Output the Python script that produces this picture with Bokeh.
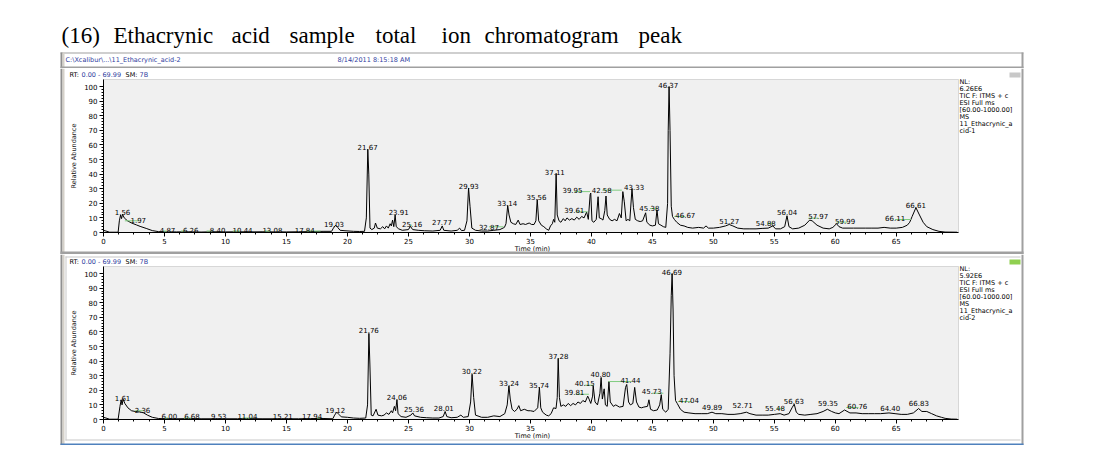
import math
import numpy as np
from bokeh.plotting import figure
from bokeh.layouts import column
from bokeh.models import Range1d, Label, BoxAnnotation, ColumnDataSource, FixedTicker
from bokeh.embed import file_html
from bokeh.resources import INLINE
from bokeh.core.properties import value

# ---------------- data ----------------
TITLE = "(16) Ethacrynic acid sample total ion chromatogram peak"
FILE_PATH = "C:\\Xcalibur\\...\\11_Ethacrynic_acid-2"
DATE_TXT = "8/14/2011 8:15:18 AM"
X_LABEL = "Time (min)"
Y_LABEL = "Relative Abundance"

x_ticks = [0, 5, 10, 15, 20, 25, 30, 35, 40, 45, 50, 55, 60, 65]
y_ticks = [0, 10, 20, 30, 40, 50, 60, 70, 80, 90, 100]
T_MAX = 70.1     # right end of the time axis (min)
Y_MAX = 104.8    # top of the abundance axis (%)

# sample 1 trace (retention time, relative abundance)
rt1 = [0.0, 0.2, 0.5, 1.2, 1.3, 1.4, 1.48, 1.56, 1.7, 1.97, 2.3, 2.7, 3.0, 3.5, 4.0, 4.5, 5.0, 6.0, 7.0, 8.0,
       9.0, 10.0, 11.0, 12.0, 13.0, 14.0, 15.0, 16.0, 17.0, 18.0, 18.7, 18.85, 19.03, 19.2, 19.4, 19.8, 20.5, 21.0,
       21.4, 21.55, 21.67, 21.75, 21.85, 22.0, 22.2, 22.3, 22.45, 22.7, 22.9, 23.05, 23.2, 23.35, 23.5, 23.6, 23.7,
       23.8, 23.91, 24.0, 24.2, 24.5, 25.0, 25.16, 25.35, 25.8, 26.3, 27.0, 27.6, 27.77, 27.9, 28.5, 29.0, 29.2,
       29.35, 29.6, 29.8, 29.93, 30.05, 30.2, 30.5, 31.0, 31.5, 32.0, 32.5, 32.87, 33.0, 33.14, 33.25, 33.4, 33.6,
       33.8, 34.0, 34.15, 34.4, 34.6, 34.9, 35.1, 35.3, 35.45, 35.56, 35.68, 35.9, 36.1, 36.3, 36.5, 36.65, 36.8,
       36.9, 37.0, 37.11, 37.2, 37.35, 37.5, 37.7, 37.85, 38.0, 38.2, 38.4, 38.6, 38.8, 39.0, 39.2, 39.4, 39.61,
       39.75, 39.9, 39.95, 40.05, 40.2, 40.4, 40.55, 40.65, 40.8, 40.95, 41.1, 41.2, 41.3, 41.5, 41.7, 41.9, 42.1,
       42.3, 42.45, 42.58, 42.7, 42.85, 43.0, 43.15, 43.33, 43.45, 43.6, 43.8, 44.0, 44.2, 44.45, 44.55, 44.8,
       45.0, 45.25, 45.38, 45.5, 45.7, 45.9, 46.1, 46.25, 46.3, 46.37, 46.45, 46.55, 46.65, 46.8, 47.0, 47.3,
       47.6, 47.9, 48.3, 48.8, 49.2, 49.4, 49.6, 50.0, 50.5, 51.0, 51.3, 51.6, 52.0, 52.5, 53.0, 53.5, 54.0,
       54.5, 54.88, 55.1, 55.5, 55.85, 56.04, 56.2, 56.5, 57.0, 57.5, 57.9, 58.1, 58.5, 59.0, 59.5, 59.8, 60.1,
       60.3, 60.6, 61.5, 62.5, 63.0, 63.5, 64.0, 64.5, 65.0, 65.5, 65.9, 66.1, 66.3, 66.61, 66.9, 67.2, 67.5,
       68.0, 68.5, 69.0, 69.99]
ab1 = [1.5, 1.0, 0.2, 0.2, 8, 12, 9.5, 12.5, 10, 8, 6.5, 5.2, 4.2, 2.8, 1.3, 0.6, 0.4, 0.4, 0.5, 0.3,
       0.5, 0.4, 0.5, 0.4, 0.5, 0.4, 0.4, 0.5, 0.6, 0.8, 0.8, 3, 5, 3.5, 1.5, 1.2, 0.8, 0.7,
       0.8, 10, 57, 40, 3, 2, 3, 6.5, 3, 2.5, 4, 2.5, 4.5, 3, 6, 4.5, 8.5,
       4, 12, 4, 2.5, 1.5, 2, 4.2, 2, 1.5, 1.2, 1.0, 1.5, 4.5, 1.5, 1.0, 1.5, 3,
       1.3, 1.5, 8, 30.5, 18, 3, 1.5, 1.0, 1.0, 1.5, 2, 3.5, 6, 18.5, 12, 7, 6,
       5.5, 8.5, 5.5, 6, 5.5, 6.5, 5.5, 5.5, 8, 22.5, 8, 5, 4, 2.5, 1.5, 4.5, 6,
       9, 7, 40.5, 12, 8, 7, 9.5, 8, 10, 8.5, 9.5, 8.5, 10.5, 9, 11, 10, 14,
       9, 26, 27, 8, 7, 9, 24.5, 10, 9.5, 8.5, 15, 25, 12, 9, 8, 9, 8,
       13, 10, 28, 21, 8, 9, 8, 30, 17, 9, 8, 7.5, 8, 13.5, 7, 5,
       4.5, 5, 15.5, 6, 5, 4, 3.5, 20, 70, 100, 70, 18, 11, 9, 7, 5,
       4.5, 3.5, 3, 3.5, 3, 4.5, 3, 3, 3.5, 4.5, 5.5, 4.5, 3, 2.5, 2.5, 2.5, 2.8,
       3, 4.5, 2.5, 2.5, 4, 11.5, 4, 2.5, 3, 5, 8.5, 8, 5, 3, 2.5, 3.5, 6,
       4, 3, 3, 3, 3, 3, 3.5, 3, 3, 3.5, 5, 7, 11, 17, 12, 7, 4,
       2, 0.8, 0.3, 0.2]

# sample 2 trace
rt2 = [0.0, 0.2, 0.5, 1.2, 1.35, 1.45, 1.52, 1.61, 1.75, 2.0, 2.3, 2.6, 3.0, 3.3, 3.6, 4.0, 4.5, 5.0, 6.0, 7.0,
       8.0, 9.0, 10.0, 11.0, 12.0, 13.0, 14.0, 15.0, 16.0, 17.0, 18.0, 18.8, 18.95, 19.12, 19.3, 19.5, 20.0, 20.5,
       21.0, 21.5, 21.65, 21.76, 21.84, 21.95, 22.1, 22.35, 22.5, 22.8, 23.0, 23.2, 23.4, 23.6, 23.7, 23.85, 23.95,
       24.06, 24.15, 24.4, 24.8, 25.2, 25.36, 25.5, 26.0, 26.5, 27.0, 27.5, 27.85, 28.01, 28.15, 28.5, 29.0, 29.3,
       29.5, 29.9, 30.1, 30.22, 30.35, 30.5, 31.0, 31.5, 32.0, 32.5, 32.9, 33.1, 33.24, 33.35, 33.5, 33.7, 33.9,
       34.05, 34.2, 34.5, 34.8, 35.0, 35.3, 35.6, 35.74, 35.85, 36.0, 36.3, 36.5, 36.7, 36.9, 37.1, 37.2, 37.28,
       37.38, 37.5, 37.7, 37.9, 38.1, 38.3, 38.5, 38.7, 38.9, 39.1, 39.3, 39.5, 39.7, 39.81, 39.95, 40.1, 40.15,
       40.3, 40.5, 40.7, 40.8, 40.9, 41.05, 41.15, 41.3, 41.44, 41.55, 41.8, 42.0, 42.3, 42.6, 42.8, 42.9, 43.05,
       43.2, 43.4, 43.55, 43.7, 43.9, 44.1, 44.3, 44.6, 44.72, 44.85, 45.1, 45.4, 45.6, 45.73, 45.85, 46.1, 46.3,
       46.45, 46.55, 46.62, 46.7, 46.78, 46.9, 47.04, 47.3, 47.6, 48.0, 48.5, 49.0, 49.5, 49.89, 50.2, 50.7, 51.2,
       51.7, 52.2, 52.71, 53.0, 53.5, 54.0, 54.5, 55.0, 55.48, 55.8, 56.2, 56.45, 56.63, 56.8, 57.0, 57.5, 58.0,
       58.5, 59.0, 59.35, 59.7, 60.0, 60.3, 60.76, 61.2, 61.7, 62.2, 62.7, 63.2, 63.7, 64.4, 64.9, 65.4, 65.9,
       66.4, 66.83, 67.1, 67.5, 67.9, 68.3, 68.7, 69.0, 69.5, 69.99]
ab2 = [1.5, 1.0, 0.2, 0.2, 9, 13.5, 10, 13.9, 11, 8, 6, 5.5, 5.2, 4.5, 3, 1.5, 0.7, 0.5, 0.5, 0.6,
       0.5, 0.5, 0.5, 0.5, 0.6, 0.5, 0.5, 0.5, 0.5, 0.6, 0.7, 0.5, 3, 5, 3.5, 1.8, 1.5, 1.0,
       0.8, 1.0, 10, 59, 38, 3, 2.5, 7, 3, 2.5, 3, 4.5, 3.5, 6, 4.5, 9, 6,
       13.5, 4, 2, 1.5, 3, 4.5, 2.5, 1.5, 1.2, 1.0, 1.0, 2, 5.5, 2, 1.2, 1.5, 3,
       1.5, 2, 12, 31, 15, 3, 1.5, 1.5, 2.5, 2, 4, 10, 23, 14, 7, 5.5, 7,
       9.5, 6, 7, 6, 6, 5.5, 8, 22, 8, 5, 3, 2.5, 4, 8, 7.5, 15, 41.8,
       15, 9, 10, 9, 11, 9.5, 11, 10, 12, 11, 13, 12, 16, 14, 11, 16, 23,
       12, 10, 18, 28.8, 14, 21, 10, 9, 26, 12, 9, 10, 8.5, 9, 22, 24, 12,
       10, 11, 22, 12, 8.5, 8, 8.5, 9, 13.5, 7, 6, 6.5, 10, 17, 7, 5, 7,
       45, 85, 100, 75, 30, 13, 11, 7, 5, 4.5, 4, 4, 4, 5, 4, 4, 3.5,
       3.5, 4, 5, 4, 3, 3, 3, 3.5, 4, 3, 4, 8, 10.5, 5, 3.5, 3, 3.5,
       4, 5.5, 7, 5.5, 4.5, 4, 6.5, 4.5, 4.5, 4, 4, 4, 4, 4.5, 4, 3.5, 3.5,
       4.5, 7.5, 5.5, 5.5, 4, 2.5, 1.5, 0.8, 0.3, 0.2]

# peak annotations (label text, label time, label height)
lab1_txt = ["1.56", "1.97", "4.87", "6.26", "8.40", "10.44", "13.08", "17.84", "19.03", "21.67", "23.91",
            "25.16", "27.77", "29.93", "32.87", "33.14", "35.56", "37.11", "39.95", "39.61", "42.58", "43.33",
            "45.38", "46.37", "46.67", "51.27", "54.88", "56.04", "57.97", "59.99", "66.11", "66.61"]
lab1_t = [1.56, 2.85, 5.25, 7.15, 9.35, 11.4, 13.85, 16.5, 18.9, 21.65, 24.2,
          25.3, 27.75, 29.95, 31.6, 33.1, 35.5, 37.0, 38.45, 38.6, 40.85, 43.5,
          44.75, 46.3, 47.7, 51.3, 54.3, 56.05, 58.6, 60.8, 64.9, 66.6]
lab1_y = [14.0, 8.5, 1.5, 1.5, 1.5, 1.5, 1.5, 1.5, 5.5, 58.5, 14.0,
          5.5, 7.0, 32.0, 4.0, 20.5, 24.0, 41.5, 29.0, 15.5, 29.0, 31.5,
          17.0, 101.2, 11.9, 8.0, 6.8, 13.7, 11.0, 8.0, 9.8, 18.7]

lab2_txt = ["1.61", "2.36", "6.00", "6.68", "9.53", "11.04", "15.21", "17.94", "19.12", "21.76", "24.06",
            "25.36", "28.01", "30.22", "33.24", "35.74", "37.28", "39.81", "40.15", "40.80", "41.44", "45.73",
            "46.69", "47.04", "49.89", "52.71", "55.48", "56.63", "59.35", "60.76", "64.40", "66.83"]
lab2_t = [1.56, 3.2, 5.4, 7.25, 9.45, 11.8, 14.7, 17.1, 19.0, 21.75, 24.05,
          25.45, 27.9, 30.2, 33.25, 35.7, 37.3, 38.6, 39.45, 40.75, 43.2, 44.95,
          46.6, 48.0, 49.9, 52.4, 55.05, 56.6, 59.4, 61.8, 64.5, 66.85]
lab2_y = [15.0, 6.6, 2.3, 2.3, 2.3, 2.3, 2.3, 2.3, 6.4, 61.5, 15.5,
          7.3, 8.2, 32.9, 24.9, 23.7, 43.6, 18.5, 24.9, 31.0, 27.2, 19.2,
          100.9, 13.2, 8.9, 10.0, 8.2, 12.8, 11.0, 9.4, 8.2, 11.0]

# integration baselines (green) : start, end, level
grn1_x0 = [1.75, 4.85, 6.35, 8.45, 10.6, 13.2, 16.6, 25.1, 31.6, 38.6, 38.7, 40.9, 44.8, 46.8, 54.4, 57.8, 60.1, 64.9]
grn1_x1 = [2.9, 5.2, 6.7, 8.9, 11.2, 13.7, 17.8, 25.3, 32.8, 39.9, 39.7, 42.5, 45.4, 47.7, 54.9, 58.6, 61.0, 66.2]
grn1_y = [8.0, 1.0, 1.0, 1.0, 1.0, 1.0, 1.0, 5.0, 3.9, 28.0, 14.2, 29.0, 16.4, 11.0, 6.2, 9.8, 7.1, 8.9]

grn2_x0 = [2.6, 5.0, 6.6, 11.4, 17.5, 38.7, 39.45, 41.4, 45.0, 47.1, 55.2, 60.9]
grn2_x1 = [3.3, 5.3, 7.2, 12.2, 17.8, 39.8, 40.2, 43.3, 45.9, 48.2, 55.7, 61.9]
grn2_y = [6.0, 1.0, 1.0, 1.0, 1.0, 17.3, 23.5, 26.0, 18.0, 12.3, 7.5, 8.2]

info1 = ["NL:", "6.26E6", "TIC F: ITMS + c", "ESI Full ms", "[60.00-1000.00]", "MS", "11_Ethacrynic_a", "cid-1"]
info2 = ["NL:", "5.92E6", "TIC F: ITMS + c", "ESI Full ms", "[60.00-1000.00]", "MS", "11_Ethacrynic_a", "cid-2"]
rt_range_txt = "0.00 - 69.99"
sm_txt = "7B"

# ---------------- styling / layout ----------------
W = 1088
PAGE = 8
SANS = "DejaVu Sans"
BLUE_TXT = "#3040a0"
CHROME = "#a0a0a0"
CHROME_LIGHT = "#d4d0c8"
PLOT_BG = "#f0f0f0"
GREEN = "#80cc80"
FRAME_L, FRAME_R = 111, 966     # plot area, page pixels


def box(p, oy, x0, y0, x1, y1, color):
    p.add_layout(BoxAnnotation(left=x0 - PAGE, right=x1 - PAGE, top=y0 - oy, bottom=y1 - oy,
                               left_units="canvas", right_units="canvas",
                               top_units="canvas", bottom_units="canvas",
                               fill_color=color, fill_alpha=1.0, line_alpha=0.0,
                               editable=False))


def label(p, oy, x, y, text, size="7px", color="black", font=SANS, align="left",
          baseline="middle", angle=0.0):
    p.add_layout(Label(x=x - PAGE, y=y - oy, x_units="canvas", y_units="canvas", text=text,
                       text_font=font, text_font_size=size, text_color=color,
                       text_align=align, text_baseline=baseline, angle=angle))


def side_chrome(p, oy, y0, y1):
    box(p, oy, 68, y0, 70, y1, "#909090")
    box(p, oy, 70, y0, 72, y1, CHROME_LIGHT)
    box(p, oy, 1029, y0, 1031, y1, CHROME)


def bare(height):
    p = figure(width=W, height=height, toolbar_location=None, output_backend="svg",
               min_border=0, outline_line_color=None,
               background_fill_color="white", border_fill_color="white")
    return p


# ---------------- header ----------------
HY = PAGE
head = bare(68)
head.x_range = Range1d(0, 1)
head.y_range = Range1d(0, 1)
head.axis.visible = False
head.grid.visible = False
word_x = [69, 121, 239, 297, 383, 449, 492, 646]
for w, wx in zip(TITLE.split(), word_x):
    label(head, HY, wx, 43, w, size="23px", font="Liberation Serif", baseline="alphabetic")
box(head, HY, 68, 60, 1031, 61, CHROME)
side_chrome(head, HY, 60, 76)
box(head, HY, 68, 74, 1031, 76, CHROME)
label(head, HY, 73, 67, FILE_PATH, size="6.5px", color=BLUE_TXT)
label(head, HY, 345, 67, DATE_TXT, size="6.5px", color=BLUE_TXT)


def panel(height, fig_y, f_top, f_bot, rt, ab, lt, ly, ltxt, gx0, gx1, gy, info, icon_color):
    # scales: data area occupies page pixels FRAME_L..FRAME_R and f_top..f_bot
    kx = (FRAME_R - FRAME_L) / T_MAX
    ky = (f_bot - f_top) / Y_MAX
    x0c = FRAME_L - PAGE
    y0c = f_bot - fig_y
    p = bare(height)
    p.x_range = Range1d(-x0c / kx, (W - x0c) / kx)
    p.y_range = Range1d(-(height - y0c) / ky, y0c / ky)
    p.grid.visible = False
    # plot area
    p.add_layout(BoxAnnotation(left=0, right=T_MAX, bottom=0, top=Y_MAX, fill_color=PLOT_BG,
                               fill_alpha=1.0, line_color="#909090", line_width=1,
                               level="underlay", editable=False))
    p.line(rt, ab, line_color="black", line_width=1)
    p.segment(x0=gx0, x1=gx1, y0=gy, y1=gy, line_color=GREEN, line_width=1)
    src = ColumnDataSource(dict(t=lt, y=ly, txt=ltxt))
    p.text(x="t", y="y", text="txt", source=src, text_font=value(SANS), text_font_size="7px",
           text_align="center", text_baseline="alphabetic", text_color="black")
    for ax in (p.xaxis, p.yaxis):
        ax.fixed_location = 0
        ax.major_label_text_font = SANS
        ax.major_label_text_font_size = "7px"
        ax.major_label_text_color = "black"
        ax.axis_line_color = "black"
        ax.major_tick_line_color = "black"
        ax.minor_tick_line_color = "black"
        ax.major_tick_in = 0
        ax.major_tick_out = 4
        ax.minor_tick_in = 0
        ax.minor_tick_out = 2
        ax.major_label_standoff = 2
    p.xaxis.major_label_standoff = 1
    p.xaxis.bounds = (0, T_MAX)
    p.yaxis.bounds = (0, Y_MAX)
    p.xaxis.ticker = FixedTicker(ticks=x_ticks, minor_ticks=list(np.arange(0, 70, 1.25)))
    p.yaxis.ticker = FixedTicker(ticks=y_ticks, minor_ticks=list(range(0, 101, 2)))
    oy = fig_y
    side_chrome(p, oy, fig_y, fig_y + height)
    label(p, oy, 81, (f_top + f_bot) / 2, Y_LABEL, size="6.5px", color="#202020",
          align="center", angle=math.pi / 2)
    # right info block
    for i, s in enumerate(info):
        label(p, oy, 967, f_top + 2 + 7 * i, s, size="6.5px")
    # RT line
    ry = f_top - 5
    label(p, oy, 77, ry, "RT:", size="6.5px")
    label(p, oy, 89, ry, rt_range_txt, size="6.5px", color=BLUE_TXT)
    label(p, oy, 133, ry, "SM:", size="6.5px")
    label(p, oy, 147, ry, sm_txt, size="6.5px", color=BLUE_TXT)
    box(p, oy, 1017, ry - 2, 1028, ry + 3, icon_color)
    # x axis title
    label(p, oy, 540, f_bot + 16, X_LABEL, size="6.5px", align="center")
    return p


p1 = panel(186, 76, 87, 240, rt1, ab1, lab1_t, lab1_y, lab1_txt, grn1_x0, grn1_x1, grn1_y, info1, "#c8c8c8")
box(p1, 76, 68, 259, 1031, 262, CHROME)

p2 = panel(191, 262, 274, 427, rt2, ab2, lab2_t, lab2_y, lab2_txt, grn2_x0, grn2_x1, grn2_y, info2, "#90d050")
box(p2, 262, 73, 264, 1028, 265, "#c8c8c8")
box(p2, 262, 73, 264, 74, 448, "#c8c8c8")
box(p2, 262, 73, 447, 1028, 448, "#c8c8c8")
box(p2, 262, 68, 451, 1031, 453, "#4f81bd")

layout = column(head, p1, p2, spacing=0)
open("out.html", "w").write(file_html(layout, INLINE))
